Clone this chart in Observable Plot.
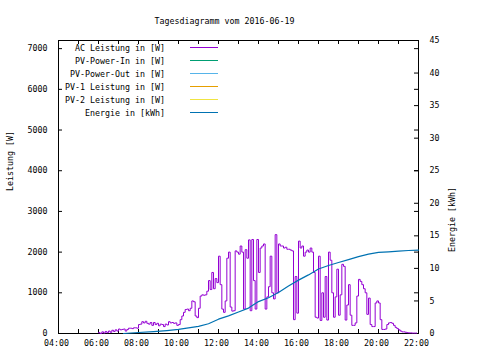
<!DOCTYPE html>
<html><head><meta charset="utf-8">
<script src="https://cdn.jsdelivr.net/npm/d3@7"></script>
<script src="https://cdn.jsdelivr.net/npm/@observablehq/plot@0.6"></script>
<style>
body{margin:0;background:#fff;}
#wrap{position:relative;width:480px;height:360px;font-family:"DejaVu Sans Mono",monospace;font-size:8.3px;color:#000;}
#wrap > svg.overlay{position:absolute;left:0;top:0;pointer-events:none;}
</style></head><body><div id="wrap"></div>
<script>
const title = "Tagesdiagramm vom 2016-06-19";
const day = "2016-06-19";
const yLabel = "Leistung [W]";
const y2Label = "Energie [kWh]";

// legend
const seriesNames = ["AC Leistung in [W]","PV-Power-In in [W]","PV-Power-Out in [W]","PV-1 Leistung in [W]","PV-2 Leistung in [W]","Energie in [kWh]"];
const seriesColors = ["#9400d3","#009e73","#56b4e9","#e69f00","#f0e442","#0072b2"];

// ticks
const hourTicks = ["04","05","06","07","08","09","10","11","12","13","14","15","16","17","18","19","20","21","22"];
const hourLabels = ["04","06","08","10","12","14","16","18","20","22"];
const wattTicks = [0,1000,2000,3000,4000,5000,6000,7000];
const kwhTicks = [0,5,10,15,20,25,30,35,40,45];
const wattMax = 7200;
const kwhMax = 45;

// AC Leistung [W], samples every 5 minutes (:00, :05 ... :55) per hour
const acHours = ["06","07","08","09","10","11","12","13","14","15","16","17","18","19","20","21"];
const acWatts = [
  [20,0,40,10,50,20,60,30,80,50,90,60],
  [110,90,100,110,60,100,130,130,120,140,140,130],
  [220,230,290,260,300,250,230,270,200,270,220,250],
  [190,230,220,170,230,210,290,260,270,250,260,200],
  [220,340,430,520,590,600,560,620,800,780,430,390],
  [620,920,950,940,950,1040,1300,1080,1500,1100,1350,1250],
  [1900,1200,600,520,800,1850,2000,650,550,560,2030,2000],
  [1950,2150,2000,600,2060,1850,2300,560,2310,1300,600,2310],
  [1500,2100,2150,2200,600,900,1150,1900,1000,850,2430,1000],
  [2200,2150,2150,2100,2120,2070,2070,2050,2030,340,1400,500],
  [2270,2100,2150,1900,2000,2050,2000,2100,2000,1500,400,380],
  [1900,320,1000,400,1400,330,2000,1800,1000,400,900,1580],
  [450,950,1700,1650,330,700,1200,450,200,200,260,920],
  [1330,1280,1200,1100,1000,470,870,220,170,170,750,800],
  [750,340,100,100,110,220,260,270,250,200,150,120],
  [90,60,40,40,30,20,15,15,10,10,10,10]
];
const acMinutes = ["00","05","10","15","20","25","30","35","40","45","50","55"];

// Energie [kWh]
const energyTimes = ["07:15","08:00","08:45","09:25","10:00","10:30","11:00","11:30","12:00","12:30","13:00","13:30","14:00","14:30","15:00","15:30","16:00","16:30","17:00","17:30","18:00","18:30","19:00","19:30","20:00","20:30","21:00","21:30","22:00"];
const energyKWh = [0,0.15,0.3,0.45,0.62,0.85,1.1,1.5,2.2,2.7,3.3,3.9,4.9,5.5,6.3,7.3,8.2,9.0,9.9,10.45,10.9,11.35,11.8,12.2,12.45,12.55,12.65,12.75,12.8];

const T = s => new Date(`${day}T${s}:00Z`);
const ac = [];
acHours.forEach((h, i) => acWatts[i].forEach((v, j) => ac.push({t: T(`${h}:${acMinutes[j]}`), v})));
const energy = energyTimes.map((s, i) => ({t: T(s), e: energyKWh[i]}));
const k = wattMax / kwhMax;

const W = 480, H = 360, mL = 58, mR = 62, mT = 40, mB = 27;
const fw = W - mL - mR, fh = H - mT - mB;
const tick = 4;
const hourDates = hourTicks.map(h => T(`${h}:00`));
const labelDates = hourLabels.map(h => T(`${h}:00`));
const fmt = d3.utcFormat("%H:%M");

const chart = Plot.plot({
  width: W, height: H,
  marginLeft: mL, marginRight: mR, marginTop: mT, marginBottom: mB,
  style: {fontFamily: "DejaVu Sans Mono", fontSize: "8.3px", color: "#000", background: "#fff"},
  x: {type: "utc", domain: [T("04:00"), T("22:00")]},
  y: {domain: [0, wattMax]},
  marks: [
    Plot.frame({stroke: "#000"}),
    Plot.tickY(wattTicks, {y: d => d, insetRight: fw - tick, stroke: "#000"}),
    Plot.tickY(wattTicks, {y: d => d, insetLeft: fw - tick, stroke: "#000"}),
    Plot.tickY(kwhTicks, {y: d => d * k, insetLeft: fw - tick, stroke: "#000"}),
    Plot.tickX(hourDates, {x: d => d, insetTop: fh - tick, stroke: "#000"}),
    Plot.tickX(hourDates, {x: d => d, insetBottom: fh - tick, stroke: "#000"}),
    Plot.axisX({ticks: labelDates, tickFormat: fmt, tickSize: 0, tickPadding: 7, label: null, dx: -2}),
    Plot.axisY({ticks: wattTicks, tickFormat: d => String(d), tickSize: 0, tickPadding: 11, anchor: "left", label: null}),
    Plot.axisY({ticks: kwhTicks.map(d => d * k), tickFormat: d => String(Math.round(d / k)), tickSize: 0, tickPadding: 11, anchor: "right", label: null}),
    Plot.line(ac, {x: "t", y: "v", stroke: seriesColors[0], strokeWidth: 1, curve: "step-after"}),
    Plot.line(energy, {x: "t", y: d => d.e * k, stroke: seriesColors[5], strokeWidth: 1.2}),
    Plot.text([title], {frameAnchor: "top", dx: -14, dy: -22}),
    Plot.text([yLabel], {frameAnchor: "left", dx: -48, dy: 4, rotate: -90}),
    Plot.text([y2Label], {frameAnchor: "right", dx: 34, rotate: -90})
  ]
});
const wrap = document.getElementById("wrap");
wrap.appendChild(chart);

// legend overlay (inside the plot frame, top-left, like gnuplot's key)
const ns = "http://www.w3.org/2000/svg";
const leg = document.createElementNS(ns, "svg");
leg.setAttribute("class", "overlay");
leg.setAttribute("width", W); leg.setAttribute("height", H);
seriesNames.forEach((name, i) => {
  const cy = Math.round(47.3 + i * 12.9) + 0.5;
  const t = document.createElementNS(ns, "text");
  t.setAttribute("x", 165); t.setAttribute("y", cy);
  t.setAttribute("text-anchor", "end"); t.setAttribute("dominant-baseline", "central");
  t.setAttribute("font-family", "DejaVu Sans Mono"); t.setAttribute("font-size", "8.3px");
  t.setAttribute("fill", "#000");
  t.textContent = name;
  leg.appendChild(t);
  const l = document.createElementNS(ns, "line");
  l.setAttribute("x1", 190); l.setAttribute("x2", 218);
  l.setAttribute("y1", cy); l.setAttribute("y2", cy);
  l.setAttribute("stroke", seriesColors[i]); l.setAttribute("stroke-width", 1);
  leg.appendChild(l);
});
wrap.appendChild(leg);
</script></body></html>
